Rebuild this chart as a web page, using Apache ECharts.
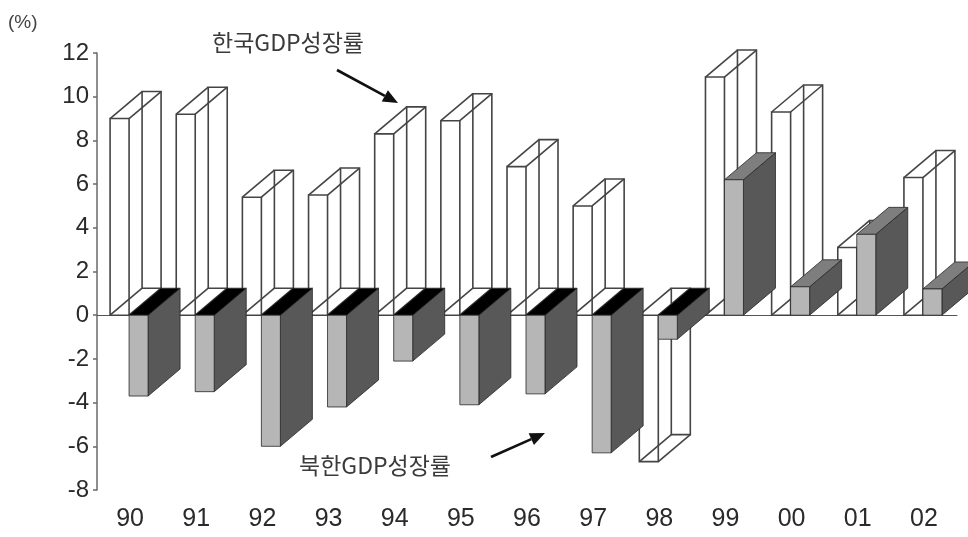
<!DOCTYPE html>
<html><head><meta charset="utf-8">
<script src="https://cdn.jsdelivr.net/npm/echarts@6/dist/echarts.min.js"></script>
<style>html,body{margin:0;padding:0;background:#fff}#c{width:968px;height:537px}</style>
</head><body><div id="c"></div>
<script>
// ---- data ----
const years = ['90','91','92','93','94','95','96','97','98','99','00','01','02'];
const southKoreaGrowth = [9.0, 9.2, 5.4, 5.5, 8.3, 8.9, 6.8, 5.0, -6.7, 10.9, 9.3, 3.1, 6.3];
const northKoreaGrowth = [-3.7, -3.5, -6.0, -4.2, -2.1, -4.1, -3.6, -6.3, -1.1, 6.2, 1.3, 3.7, 1.2];
const yMin = -8, yMax = 12, yStep = 2;
const southLabel = '한국GDP성장률';
const northLabel = '북한GDP성장률';
const unitLabel = '(%)';

// ---- style constants ----
const DX = 32, DY = -27;          // oblique depth offset
const BAR_FRAC = 19 / 66.17;      // bar face width as a fraction of the category band
const FONT = 'Liberation Sans, Arial, sans-serif';
const KFONT = 'Noto Sans CJK KR, sans-serif';

function faceRect(api, i, v, leftSide) {
  const band = api.size([1, 0])[0];
  const w = band * BAR_FRAC;
  const base = api.coord([i, 0]);
  const top = api.coord([i, v]);
  const xl = leftSide ? base[0] - 1 - w : base[0] - 1;
  const xr = xl + w;
  const ya = Math.min(base[1], top[1]);
  const yb = Math.max(base[1], top[1]);
  return { xl, xr, ya, yb };
}

function renderSouth(params, api) {
  const i = api.value(0), v = api.value(1);
  const r = faceRect(api, i, v, true);
  const F = [[r.xl, r.ya], [r.xr, r.ya], [r.xr, r.yb], [r.xl, r.yb]];
  const B = F.map(p => [p[0] + DX, p[1] + DY]);
  const st = { fill: 'none', stroke: '#444', lineWidth: 1.6 };
  const children = [
    { type: 'polygon', shape: { points: B }, style: st },
    { type: 'polygon', shape: { points: F }, style: st }
  ];
  for (let k = 0; k < 4; k++) {
    children.push({ type: 'line', shape: { x1: F[k][0], y1: F[k][1], x2: B[k][0], y2: B[k][1] }, style: st });
  }
  return { type: 'group', children };
}

function renderNorth(params, api) {
  const i = api.value(0), v = api.value(1);
  const r = faceRect(api, i, v, false);
  const edge = { stroke: '#262626', lineWidth: 0.8 };
  const side = [[r.xr, r.ya], [r.xr + DX, r.ya + DY], [r.xr + DX, r.yb + DY], [r.xr, r.yb]];
  const topF = [[r.xl, r.ya], [r.xl + DX, r.ya + DY], [r.xr + DX, r.ya + DY], [r.xr, r.ya]];
  const front = [[r.xl, r.ya], [r.xr, r.ya], [r.xr, r.yb], [r.xl, r.yb]];
  return {
    type: 'group',
    children: [
      { type: 'polygon', shape: { points: side }, style: Object.assign({ fill: '#585858' }, edge) },
      { type: 'polygon', shape: { points: topF }, style: Object.assign({ fill: v >= 0 ? '#7e7e7e' : '#000000' }, edge) },
      { type: 'polygon', shape: { points: front }, style: Object.assign({ fill: '#b6b6b6' }, edge) }
    ]
  };
}

function arrow(x1, y1, x2, y2) {
  const ang = Math.atan2(y2 - y1, x2 - x1);
  const L = 15, H = 6.5;
  const bx = x2 - L * Math.cos(ang), by = y2 - L * Math.sin(ang);
  const nx = -Math.sin(ang), ny = Math.cos(ang);
  return {
    type: 'group',
    children: [
      { type: 'line', shape: { x1, y1, x2: bx, y2: by }, style: { stroke: '#111', lineWidth: 2.6 } },
      { type: 'polygon', shape: { points: [[x2, y2], [bx + nx * H, by + ny * H], [bx - nx * H, by - ny * H]] }, style: { fill: '#111' } }
    ]
  };
}

const chart = echarts.init(document.getElementById('c'), null, { renderer: 'canvas' });
chart.setOption({
  animation: false,
  backgroundColor: '#ffffff',
  grid: { left: 97, right: 11, top: 53, bottom: 47, containLabel: false },
  xAxis: [
    {
      type: 'category', data: years, position: 'bottom',
      axisLine: { show: false, onZero: false },
      axisTick: { show: false },
      axisLabel: { fontFamily: FONT, fontSize: 25, color: '#2a2a2a', margin: 17 },
      splitLine: { show: false }
    },
    {
      type: 'category', data: years, position: 'top',
      axisLine: { show: true, onZero: true, lineStyle: { color: '#555', width: 1.2 } },
      axisTick: { show: false },
      axisLabel: { show: false },
      splitLine: { show: false }
    }
  ],
  yAxis: {
    type: 'value', min: yMin, max: yMax, interval: yStep,
    axisLine: { show: true, lineStyle: { color: '#6a6a6a', width: 1.5 } },
    axisTick: { show: true, length: 4, lineStyle: { color: '#6a6a6a', width: 1.5 } },
    axisLabel: { fontFamily: FONT, fontSize: 24, color: '#2a2a2a', margin: 8 },
    splitLine: { show: false }
  },
  series: [
    {
      name: southLabel, type: 'custom', renderItem: renderSouth, z: 2,
      encode: { x: 0, y: 1 },
      data: southKoreaGrowth.map((v, i) => [i, v])
    },
    {
      name: northLabel, type: 'custom', renderItem: renderNorth, z: 3,
      encode: { x: 0, y: 1 },
      data: northKoreaGrowth.map((v, i) => [i, v])
    }
  ],
  graphic: [
    { type: 'text', left: 8, top: 13, style: { text: unitLabel, fontFamily: FONT, fontSize: 19, fill: '#444' } },
    { type: 'text', x: 212, y: 42, style: { text: southLabel, fontFamily: KFONT, fontSize: 23, fill: '#3a3a3a', verticalAlign: 'middle' } },
    { type: 'text', x: 299, y: 465, style: { text: northLabel, fontFamily: KFONT, fontSize: 23, fill: '#3a3a3a', verticalAlign: 'middle' } },
    arrow(337, 70, 398, 103),
    arrow(491, 457, 545, 433)
  ]
});
</script>
</body></html>
